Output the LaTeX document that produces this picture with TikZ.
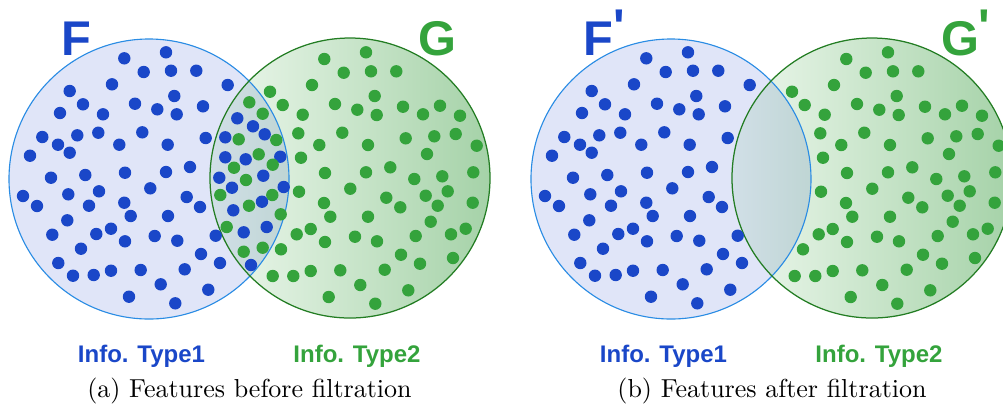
\documentclass[tikz,border=0pt]{standalone}
\usepackage{fontspec}
\newfontfamily\labfont{Liberation Sans}[Ligatures=TeXOff]
\definecolor{bluedot}{RGB}{26,71,200}
\definecolor{greendot}{RGB}{52,163,60}
\definecolor{bluefill}{RGB}{224,229,248}
\definecolor{blueline}{RGB}{42,140,228}
\definecolor{greenline}{RGB}{35,125,35}
\definecolor{gleft}{RGB}{238,248,238}
\definecolor{gright}{RGB}{165,210,168}
\definecolor{lleft}{RGB}{209,223,231}
\definecolor{lright}{RGB}{145,189,163}
\newcommand\bluelist{124.3/58.3, 166/52.3, 143.7/72, 171/70.7, 196.3/70.7, 227.7/85, 112/84.3, 69.7/91, 174.3/96, 83/104.3, 135/103.7, 157.3/109.3, 176.7/114.3, 203/106.3, 60/113, 103/114.3, 237.3/118.3, 253/126.3, 264.7/134.3, 42.3/137, 77.3/135.3, 98.3/132.7, 142.3/132.3, 58/144.7, 69.7/152.7, 119.3/144.7, 167.7/144.7, 205.7/138, 225.3/137.3, 30/155.7, 225.3/157.3, 245.7/159.3, 280.3/156.7, 51/177.7, 85.3/175, 125/172.7, 166/172, 190/167, 219.3/177.7, 263.3/175.7, 232/187.7, 283.7/187, 23/196, 37/206, 68.3/194.3, 99/191.3, 150.3/188.3, 89/205.7, 124.3/202.7, 186.7/197, 200/207, 130.7/216, 168/216, 233.3/210.3, 262/201.7, 67.3/220.3, 52.3/234.7, 96.3/234, 111/228.7, 125/241.3, 154.7/236, 177.3/240.7, 215.7/235.7, 243.7/232.3, 266.7/227, 81/248.7, 201/254, 58.3/263, 73/275.7, 93.7/275, 111/270.7, 140.7/270, 184.7/269.3, 220/263, 251/265, 160.7/284.3, 208.3/289.7, 129/296.7, 175.3/303.3}
\newcommand\greenlist{324.3/59, 366/52.3, 343.7/72.7, 371/71.3, 396.3/71.3, 312/85, 270/91.7, 374.7/96, 282.7/105, 335/104, 357.3/109.7, 376.7/115, 403/106.7, 423/114.3, 440/105.7, 460/115.7, 249.3/102.3, 262.7/113.7, 302.7/114.7, 298.3/133.3, 342.3/132.7, 238.7/139.3, 276.3/140, 319.3/145, 368/145, 405.7/138.3, 434.3/136.3, 455.7/134, 476.7/145.7, 258.7/154.3, 301/157.7, 427/154, 234/167.7, 272.7/164.7, 325/173, 366/172.3, 390.3/167.3, 414.3/179, 442.3/176.3, 473.3/172.3, 246/180, 220.3/195, 272.3/195, 299/191.7, 350.3/188.7, 386.3/197.7, 425.7/195.7, 447.7/191.3, 324/203, 400.3/207.3, 437.7/205.7, 472.7/202.7, 249/205.7, 280.7/214.3, 330.3/216.7, 368/216.7, 430.7/221.7, 226.7/227, 296.7/234.3, 310.7/229, 325/242, 355/236.7, 377/241.3, 415.7/236, 451/234.3, 465.7/228.7, 243.7/251.7, 262.7/247.7, 281/249.3, 401/254.7, 420/263.7, 453/258, 272.7/276, 293.3/276, 310.7/271, 340.3/270.3, 384.7/269.7, 360.3/285, 408.3/290.3, 328.7/297, 375.3/303.7}
\begin{document}
\begin{tikzpicture}[x=0.4pt,y=-0.4pt,
  bigcircle/.style={radius=56pt},
  bluedisc/.style={fill=bluedot},
  greendisc/.style={fill=greendot},
  blueedge/.style={draw=blueline,line width=0.45pt},
  greenedge/.style={draw=greenline,line width=0.5pt},
  setlab/.style={inner sep=0pt,anchor=base west,font=\labfont\bfseries\fontsize{19.5}{20}\selectfont},
  infolab/.style={inner sep=0pt,anchor=base,font=\labfont\bfseries\fontsize{9.6}{11}\selectfont},
  caplab/.style={inner sep=0pt,anchor=base,font=\fontsize{10.4}{12}\selectfont}]
\useasboundingbox (0,0) rectangle (1003,403);
\foreach \dx/\panel in {0/a,522/b}{
  \fill[bluefill] (149+\dx,179) circle[bigcircle];
  \shade[left color=gleft,right color=gright] (350+\dx,178) circle[bigcircle];
  \begin{scope}
    \clip (149+\dx,179) circle[bigcircle];
    \shade[left color=lleft,right color=lright] (350+\dx,178) circle[bigcircle];
  \end{scope}
  \draw[blueedge] (149+\dx,179) circle[bigcircle];
  \draw[greenedge] (350+\dx,178) circle[bigcircle];
}
% left panel dots
\foreach \x/\y in \bluelist { \fill[bluedisc] (\x,\y) circle[radius=2.48pt]; }
\foreach \x/\y in \greenlist { \fill[greendisc] (\x,\y) circle[radius=2.48pt]; }
% right panel dots: only those outside the other set
\foreach \x/\y in \bluelist {
  \pgfmathparse{(((\x-350)/10)^2+((\y-178)/10)^2>196)?1:0}
  \ifdim\pgfmathresult pt>0.5pt \fill[bluedisc] ({\x+522},\y) circle[radius=2.48pt];\fi
}
\foreach \x/\y in \greenlist {
  \pgfmathparse{(((\x-149)/10)^2+((\y-179)/10)^2>196)?1:0}
  \ifdim\pgfmathresult pt>0.5pt \fill[greendisc] ({\x+522},\y) circle[radius=2.48pt];\fi
}
% labels
\node[setlab,text=bluedot] (F) at (61.4,55) {F};
\node[setlab,text=greendot] (G) at (418.5,55) {G};
\node[setlab,text=bluedot] (Fp) at (583.4,55) {F\raisebox{4.8pt}{'}};
\node[setlab,text=greendot] (Gp) at (940.5,55) {G\raisebox{4.8pt}{'}};
\node[infolab,text=bluedot] (i1a) at (141.5,362) {Info. Type1};
\node[infolab,text=greendot] (i2a) at (357,362) {Info. Type2};
\node[infolab,text=bluedot] (i1b) at (663.5,362) {Info. Type1};
\node[infolab,text=greendot] (i2b) at (879,362) {Info. Type2};
\node[caplab] (capa) at (249.5,397) {(a) Features before filtration};
\node[caplab] (capb) at (772,397) {(b) Features after filtration};
\end{tikzpicture}
\end{document}
